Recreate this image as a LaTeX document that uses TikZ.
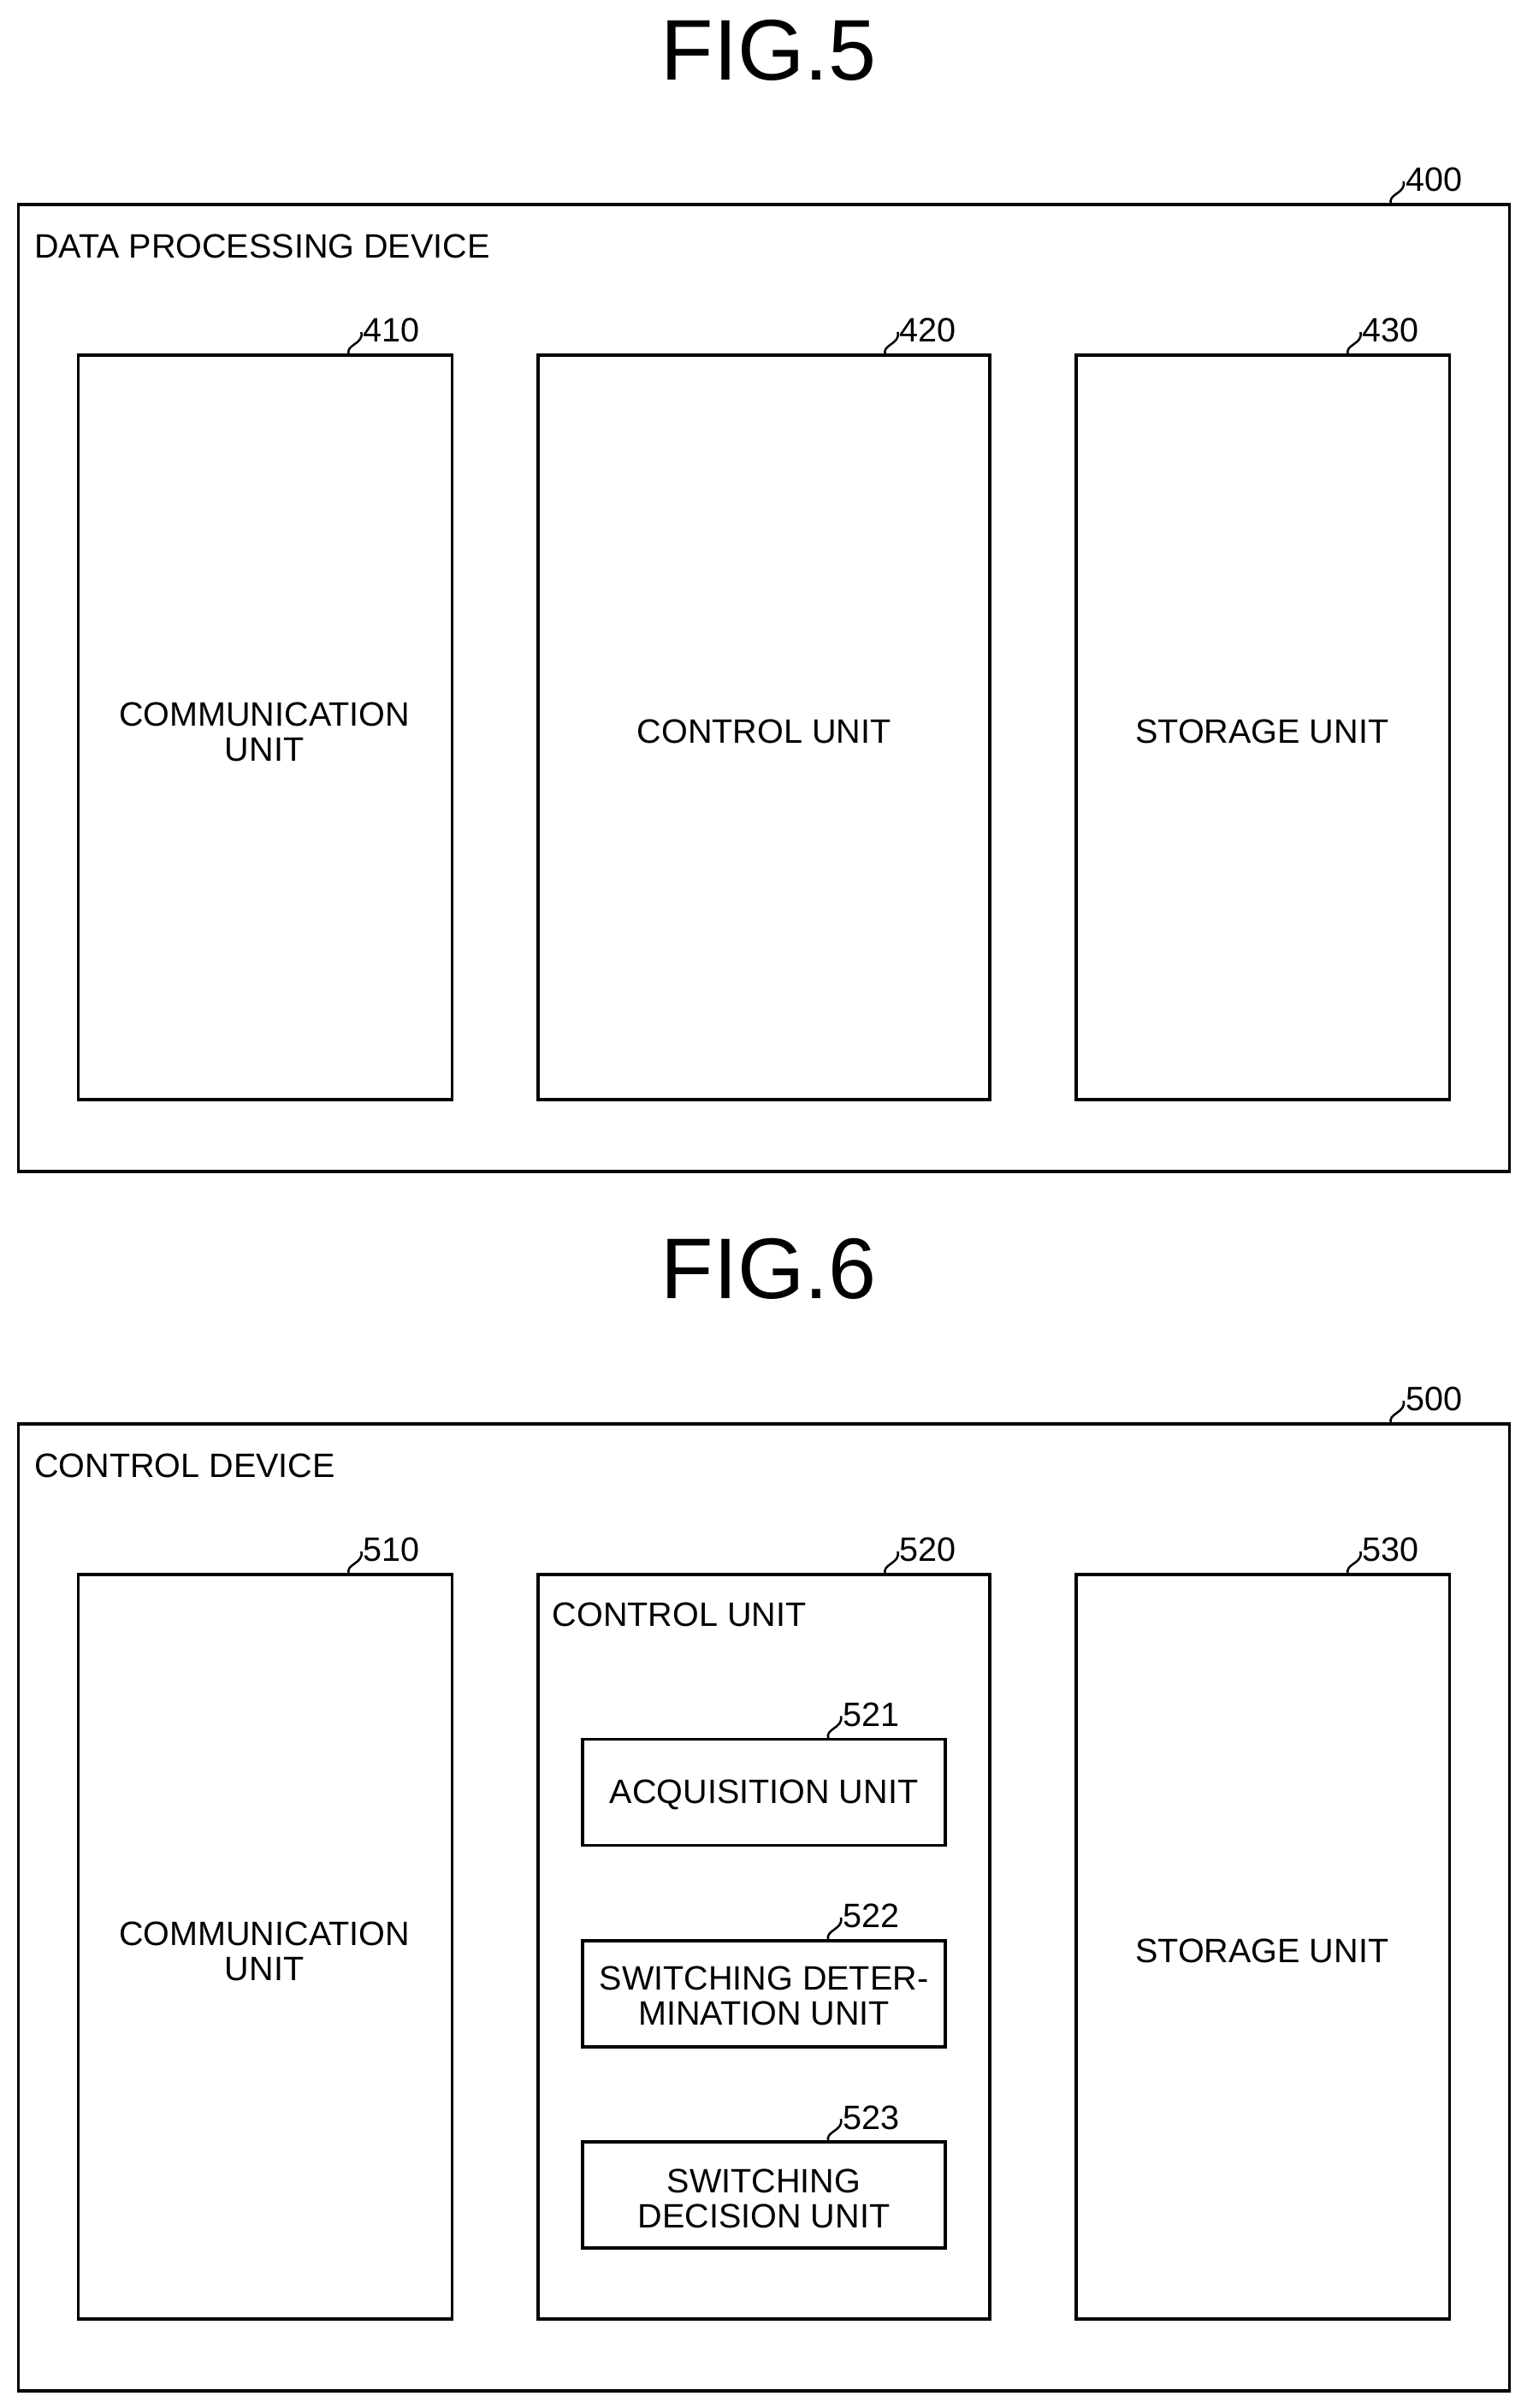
\documentclass[tikz,border=0pt]{standalone}
\usepackage{fontspec}
\setmainfont{Liberation Sans}
\begin{document}
\begin{tikzpicture}[x=0.5pt,y=-0.5pt,
  box/.style={draw,line width=1pt},
  txt/.style={font=\fontsize{11}{11.5}\selectfont,align=center,inner sep=0},
  ttl/.style={font=\fontsize{28}{30}\selectfont,inner sep=0},
  lbl/.style={font=\fontsize{11}{11}\selectfont,inner sep=0,anchor=west}]
\useasboundingbox (0,0) rectangle (993,1566);
\newcommand{\lead}[4]{% name, x, y of box top, label
  \coordinate (#1s) at (#2,#3);
  \coordinate (#1e) at ({#2+8},{#3-15});
  \draw[line width=0.7pt] (#1s) .. controls ({#2-3},{#3-7}) and ({#2+10},{#3-7}) .. (#1e);
  \node[lbl] (#1l) at ({#2+9},{#3-16}) {#4};}
% FIG 5
\node[ttl] (t5) at (500,33) {FIG.5};
\draw[box] (12,133) rectangle (982,762);
\node[txt,anchor=west] (d400) at (22,160) {DATA PROCESSING DEVICE};
\lead{a}{905}{133}{400}
\draw[box] (51,231) rectangle (294,715); \node[txt] (c410) at (172,476) {COMMUNICATION\\UNIT};
\draw[box] (350,231) rectangle (644,715); \node[txt] (c420) at (497,476) {CONTROL UNIT};
\draw[box] (700,231) rectangle (943,715); \node[txt] (c430) at (821,476) {STORAGE UNIT};
\lead{b}{227}{231}{410}
\lead{c}{576}{231}{420}
\lead{d}{877}{231}{430}
% FIG 6
\node[ttl] (t6) at (500,825) {FIG.6};
\draw[box] (12,926) rectangle (982,1555);
\node[txt,anchor=west] (d500) at (22,953) {CONTROL DEVICE};
\lead{e}{905}{926}{500}
\draw[box] (51,1024) rectangle (294,1508); \node[txt] (c510) at (172,1269) {COMMUNICATION\\UNIT};
\draw[box] (350,1024) rectangle (644,1508); \node[txt,anchor=west] (c520) at (359,1050) {CONTROL UNIT};
\draw[box] (700,1024) rectangle (943,1508); \node[txt] (c530) at (821,1269) {STORAGE UNIT};
\lead{f}{227}{1024}{510}
\lead{g}{576}{1024}{520}
\lead{h}{877}{1024}{530}
\draw[box] (379,1131) rectangle (615,1200); \node[txt] (c521) at (497,1167) {ACQUISITION UNIT};
\draw[box] (379,1262) rectangle (615,1331); \node[txt] (c522) at (497,1298) {SWITCHING DETER-\\MINATION UNIT};
\draw[box] (379,1393) rectangle (615,1462); \node[txt] (c523) at (497,1430) {SWITCHING\\DECISION UNIT};
\lead{i}{539}{1131}{521}
\lead{j}{539}{1262}{522}
\lead{k}{539}{1393}{523}
\end{tikzpicture}
\end{document}
